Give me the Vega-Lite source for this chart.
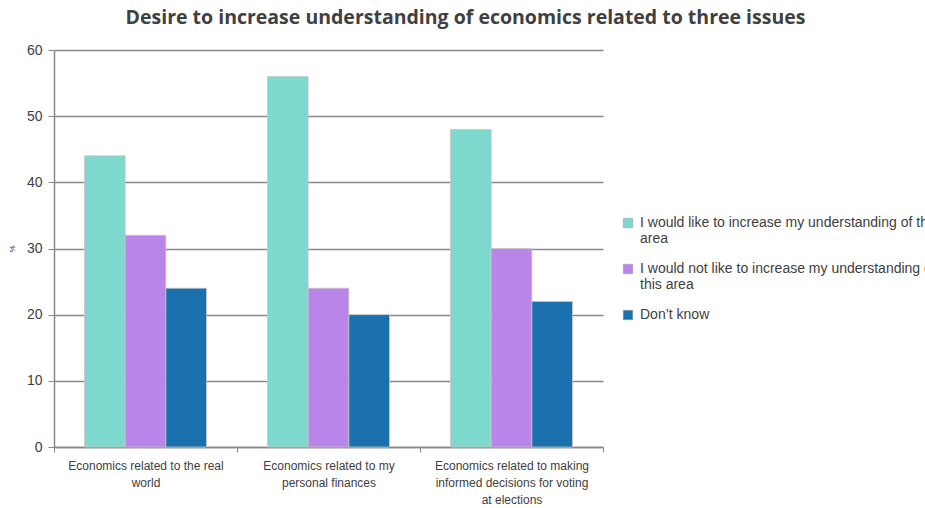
{
  "$schema": "https://vega.github.io/schema/vega-lite/v6.json",
  "autosize": "none",
  "width": 549,
  "height": 397,
  "padding": {"left": 54, "top": 50, "right": 322, "bottom": 61},
  "background": "white",
  "config": {"font": "Liberation Sans", "view": {"stroke": null}},
  "title": {
    "text": "Desire to increase understanding of economics related to three issues",
    "fontSize": 19.5,
    "fontWeight": "bold",
    "color": "#404040",
    "font": "Open Sans",
    "anchor": "middle",
    "dx": 137,
    "offset": 15
  },
  "data": {
    "values": [
      {"issue": "Economics related to the real|world", "series": "I would like to increase my understanding of this|area", "value": 44},
      {"issue": "Economics related to the real|world", "series": "I would not like to increase my understanding of|this area", "value": 32},
      {"issue": "Economics related to the real|world", "series": "Don’t know", "value": 24},
      {"issue": "Economics related to my|personal finances", "series": "I would like to increase my understanding of this|area", "value": 56},
      {"issue": "Economics related to my|personal finances", "series": "I would not like to increase my understanding of|this area", "value": 24},
      {"issue": "Economics related to my|personal finances", "series": "Don’t know", "value": 20},
      {"issue": "Economics related to making|informed decisions for voting|at elections", "series": "I would like to increase my understanding of this|area", "value": 48},
      {"issue": "Economics related to making|informed decisions for voting|at elections", "series": "I would not like to increase my understanding of|this area", "value": 30},
      {"issue": "Economics related to making|informed decisions for voting|at elections", "series": "Don’t know", "value": 22}
    ]
  },
  "mark": {"type": "bar", "stroke": "#c8c8c8", "strokeWidth": 0.8},
  "encoding": {
    "x": {
      "field": "issue",
      "type": "nominal",
      "sort": null,
      "scale": {"paddingInner": 0, "paddingOuter": 0},
      "axis": {
        "title": null,
        "labelAngle": 0,
        "labelExpr": "split(datum.label, '|')",
        "labelFontSize": 12,
        "labelColor": "#404040",
        "labelLimit": 300,
        "labelPadding": 8,
        "domainColor": "#888888",
        "domainWidth": 1.5,
        "tickColor": "#888888",
        "tickBand": "extent",
        "tickSize": 5,
        "grid": false,
        "labelLineHeight": 17
      }
    },
    "xOffset": {
      "field": "series",
      "type": "nominal",
      "sort": null,
      "scale": {"paddingInner": 0, "paddingOuter": 0.75}
    },
    "y": {
      "field": "value",
      "type": "quantitative",
      "scale": {"domain": [0, 60], "nice": false},
      "axis": {
        "title": "%",
        "titleFontSize": 8,
        "titleFontWeight": "normal",
        "titleColor": "#404040",
        "titlePadding": 10,
        "values": [0, 10, 20, 30, 40, 50, 60],
        "labelFontSize": 14,
        "labelColor": "#404040",
        "labelPadding": 6,
        "domainColor": "#888888",
        "domainWidth": 1.5,
        "tickColor": "#888888",
        "tickSize": 6,
        "gridColor": "#888888",
        "gridWidth": 1.5
      }
    },
    "color": {
      "field": "series",
      "type": "nominal",
      "sort": null,
      "scale": {"range": ["#7dd8cd", "#b985e8", "#1a71ad"]},
      "legend": {
        "title": null,
        "orient": "none",
        "legendX": 567,
        "legendY": 166,
        "symbolType": "square",
        "symbolSize": 90,
        "symbolStrokeColor": "#999999",
        "symbolStrokeWidth": 0.5,
        "labelExpr": "split(datum.label, '|')",
        "labelFontSize": 14,
        "labelColor": "#404040",
        "labelLimit": 500,
        "labelBaseline": "middle",
        "labelOffset": 5,
        "rowPadding": 16,
        "labelLineHeight": 18
      }
    }
  }
}
